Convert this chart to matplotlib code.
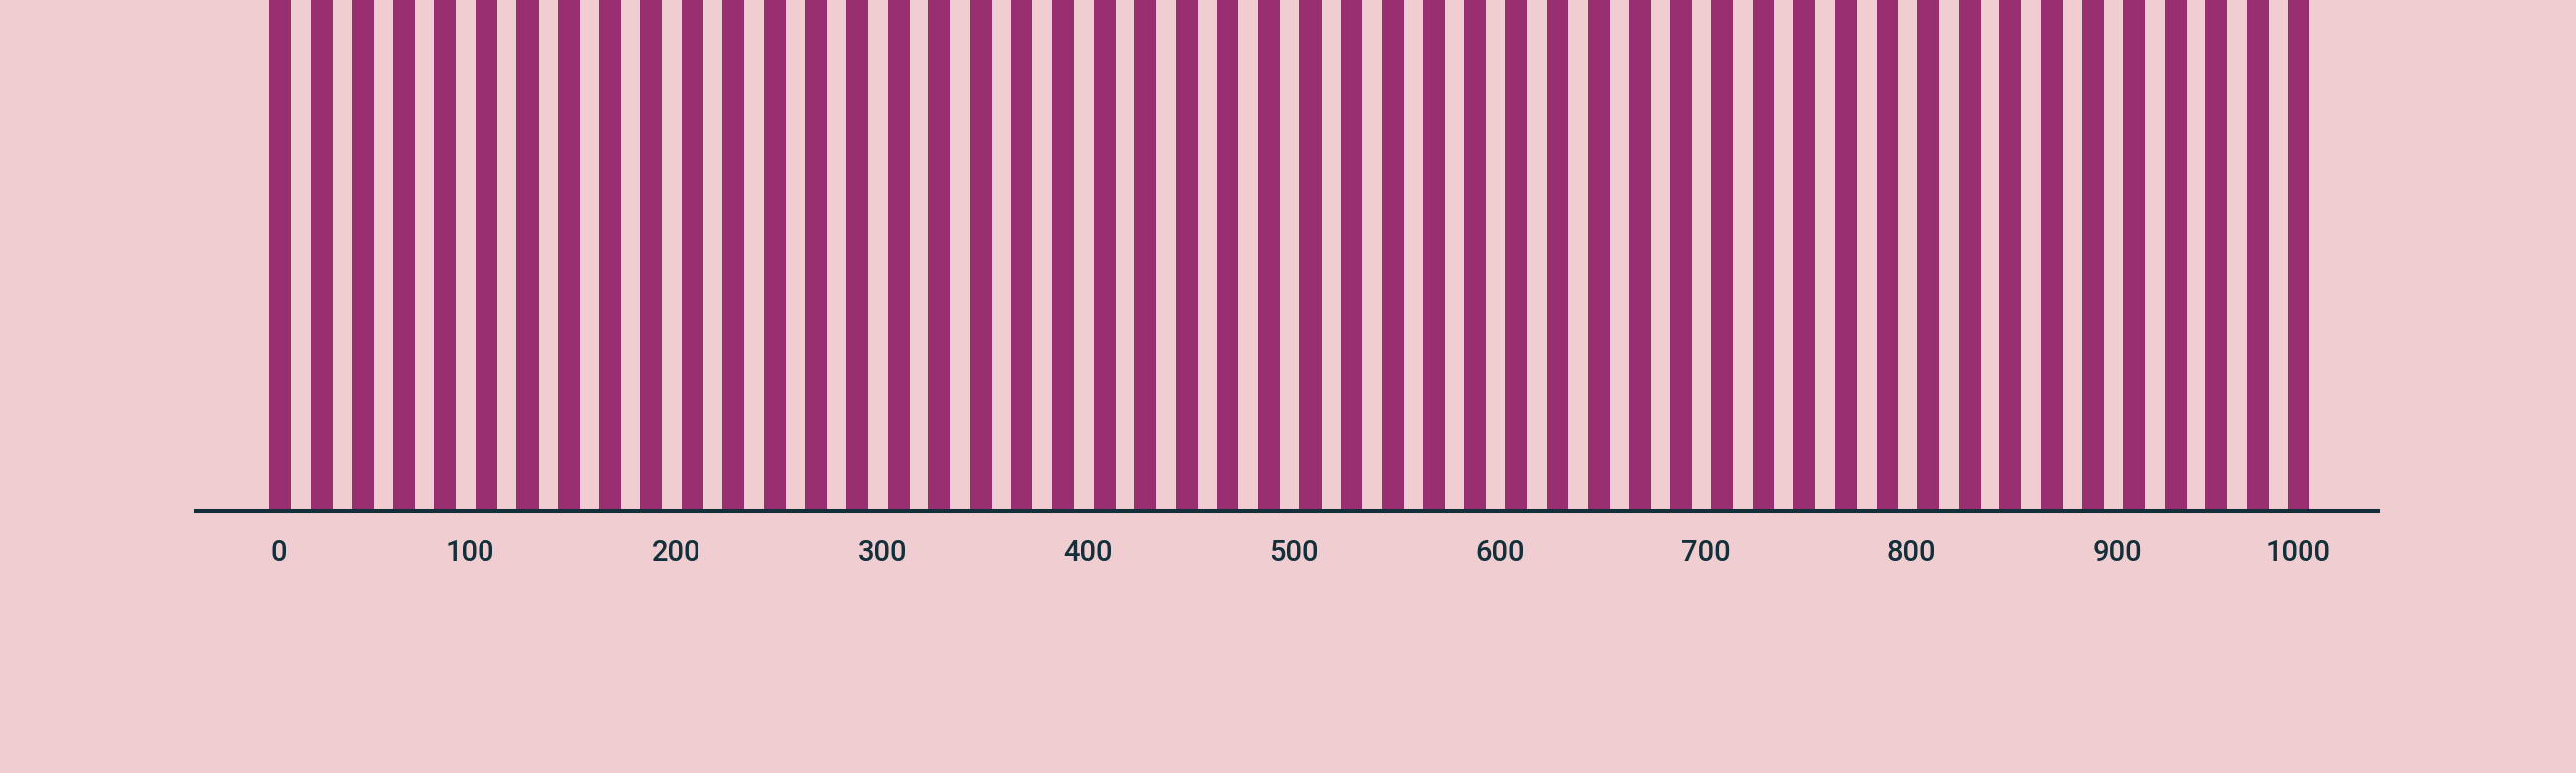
import numpy as np
import matplotlib
matplotlib.use("Agg")
import matplotlib.pyplot as plt
import matplotlib.transforms as mtransforms

# bins of width 20 from 0 to 1000, every bar runs past the top of the plot
bin_starts = list(range(0, 1000, 20))
bin_counts = [1.0] * len(bin_starts)
tick_values = [0, 100, 200, 300, 400, 500, 600, 700, 800, 900, 1000]
tick_labels = [str(v) for v in tick_values]

bg = "#efcdd0"
bar_color = "#992e71"
ink = "#13303a"

plt.rcParams['font.family'] = ['Roboto', 'DejaVu Sans']

fig = plt.figure(figsize=(26, 7.8), dpi=100, facecolor=bg)
ax = fig.add_axes([198 / 2600, (780 - 516) / 780, 2202 / 2600, 516 / 780])
ax.set_facecolor(bg)

# Draw the bars
ax.bar(np.array(bin_starts) + 2.6, bin_counts, width=10.6, align='edge',
       color=bar_color, linewidth=0, zorder=2)

ax.set_xlim(-33.0, 1026.2)
ax.set_ylim(0, 0.95)

for side in ['top', 'left', 'right']:
    ax.spines[side].set_visible(False)
ax.spines['bottom'].set_color(ink)
ax.spines['bottom'].set_linewidth(2.9)
ax.spines['bottom'].set_zorder(3)

ax.set_yticks([])
ax.set_xticks(tick_values)
ax.set_xticklabels(tick_labels, fontweight='medium')
ax.tick_params(axis='x', length=0, pad=20, labelsize=21, labelcolor=ink)

# first and last labels sit flush inside the axis ends
labels = ax.get_xticklabels()
labels[0].set_transform(labels[0].get_transform() +
                        mtransforms.ScaledTranslation(15.4 / 100, 0, fig.dpi_scale_trans))
labels[-1].set_transform(labels[-1].get_transform() +
                         mtransforms.ScaledTranslation(-25.6 / 100, 0, fig.dpi_scale_trans))

fig.savefig("out.png", dpi=100, facecolor=bg)
